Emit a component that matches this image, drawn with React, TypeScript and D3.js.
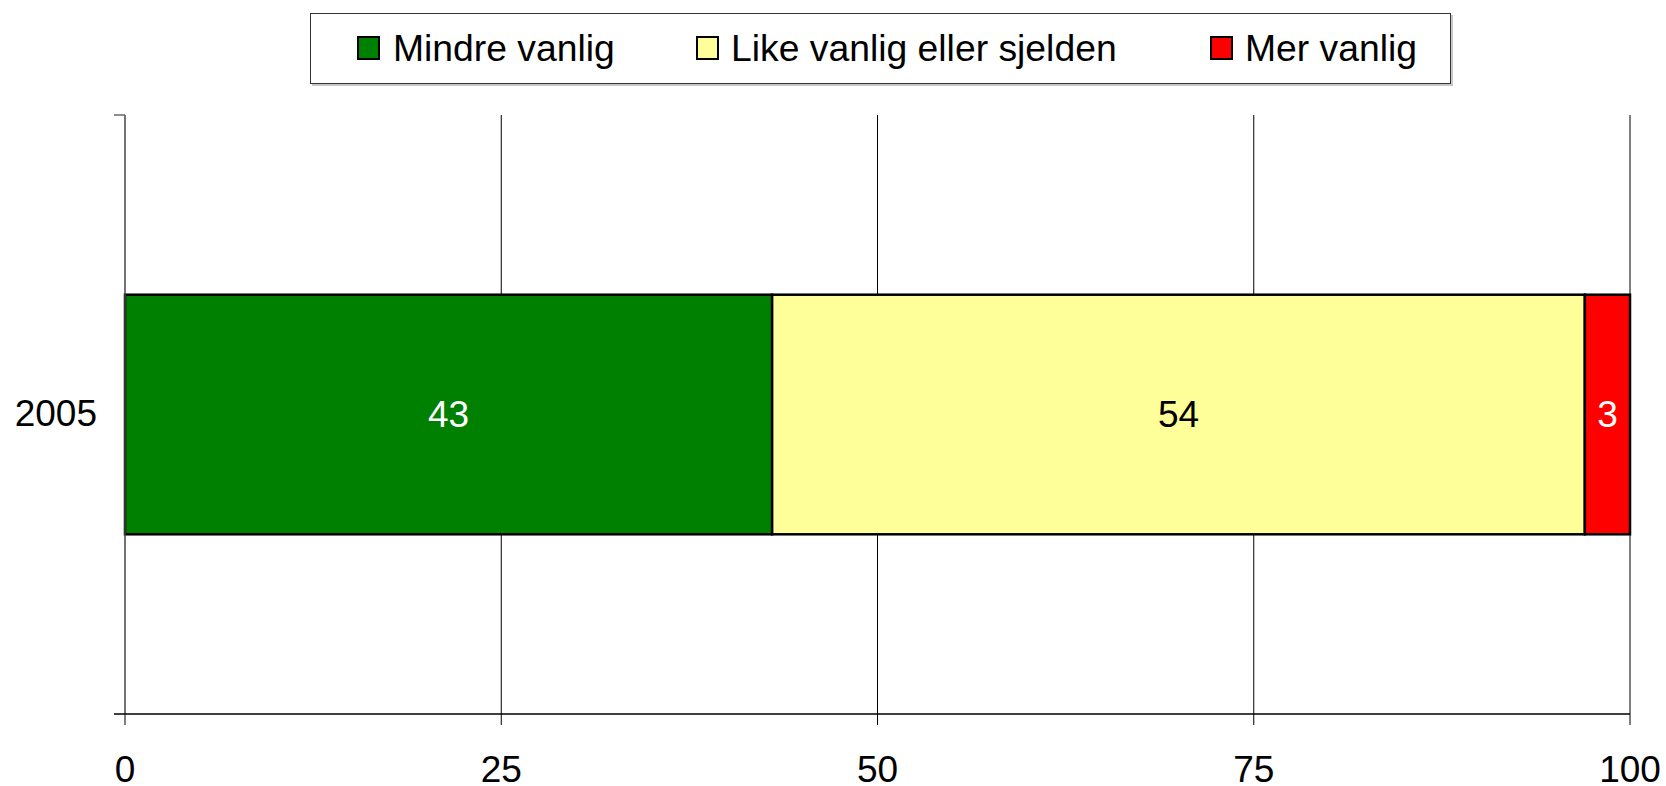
import React from "react";
import * as d3 from "d3";

const categories = ["2005"];
const seriesNames = ["Mindre vanlig", "Like vanlig eller sjelden", "Mer vanlig"];
const seriesColors = ["#008000", "#FFFF99", "#FF0000"];
const labelColors = ["#ffffff", "#000000", "#ffffff"];
const values2005 = [43, 54, 3];
const xTicks = [0, 25, 50, 75, 100];

const W = 1666;
const H = 786;
const FONT = "'Liberation Sans', Arial, sans-serif";

export default function App() {
  const left = 125, right = 1630, top = 115, bottom = 714;
  const x = d3.scaleLinear().domain([0, 100]).range([left, right]);
  const y = d3.scaleBand().domain(categories).range([top, bottom]).paddingInner(0.6).paddingOuter(0.3);
  const stackData = [Object.fromEntries(seriesNames.map((s, i) => [s, values2005[i]]))];
  const stacked = d3.stack<any>().keys(seriesNames)(stackData as any);

  const legendItems = [
    { sq: 358, tx: 393 },
    { sq: 697, tx: 731 },
    { sq: 1211, tx: 1245 },
  ];

  return (
    <svg width={W} height={H} style={{ position: "absolute", left: 0, top: 0, background: "#fff" }} fontFamily={FONT}>
      {/* legend */}
      <rect x={312} y={15} width={1141} height={71} fill="#c8c8c8" />
      <rect x={310.5} y={13.5} width={1140} height={70} fill="#fff" stroke="#333" strokeWidth={1} />
      {seriesNames.map((s, i) => (
        <g key={s}>
          <rect x={legendItems[i].sq} y={37} width={21} height={22} fill={seriesColors[i]} stroke="#000" strokeWidth={2} />
          <text x={legendItems[i].tx} y={48} dominantBaseline="central" fontSize={37.3} fill="#000">{s}</text>
        </g>
      ))}

      {/* gridlines */}
      {xTicks.filter(t => t > 0).map(t => (
        <line key={t} x1={x(t)} x2={x(t)} y1={top} y2={bottom} stroke="#000" strokeWidth={1} />
      ))}

      {/* bars */}
      {stacked.map((layer, i) => layer.map((d, j) => {
        const cat = categories[j];
        const x0 = x(d[0]), x1 = x(d[1]);
        const y0 = y(cat)!;
        const bh = y.bandwidth();
        return (
          <g key={seriesNames[i] + cat}>
            <rect x={x0} y={y0} width={x1 - x0} height={bh} fill={seriesColors[i]} stroke="#000" strokeWidth={2.5} />
            <text x={(x0 + x1) / 2} y={y0 + bh / 2} textAnchor="middle" dominantBaseline="central" fontSize={37} fill={labelColors[i]}>
              {values2005[i]}
            </text>
          </g>
        );
      }))}

      {/* y axis */}
      <line x1={left} x2={left} y1={top} y2={bottom} stroke="#444" strokeWidth={1.5} />
      <line x1={114} x2={left} y1={top} y2={top} stroke="#666" strokeWidth={1.5} />
      {categories.map(c => (
        <text key={c} x={97} y={y(c)! + y.bandwidth() / 2 - 1} textAnchor="end" dominantBaseline="central" fontSize={37} fill="#000">{c}</text>
      ))}

      {/* x axis */}
      <line x1={114} x2={right} y1={bottom} y2={bottom} stroke="#000" strokeWidth={1.5} />
      {xTicks.map(t => (
        <g key={t}>
          <line x1={x(t)} x2={x(t)} y1={bottom} y2={725} stroke="#000" strokeWidth={1} />
          <text x={x(t)} y={782} textAnchor="middle" fontSize={37} fill="#000">{t}</text>
        </g>
      ))}
    </svg>
  );
}
